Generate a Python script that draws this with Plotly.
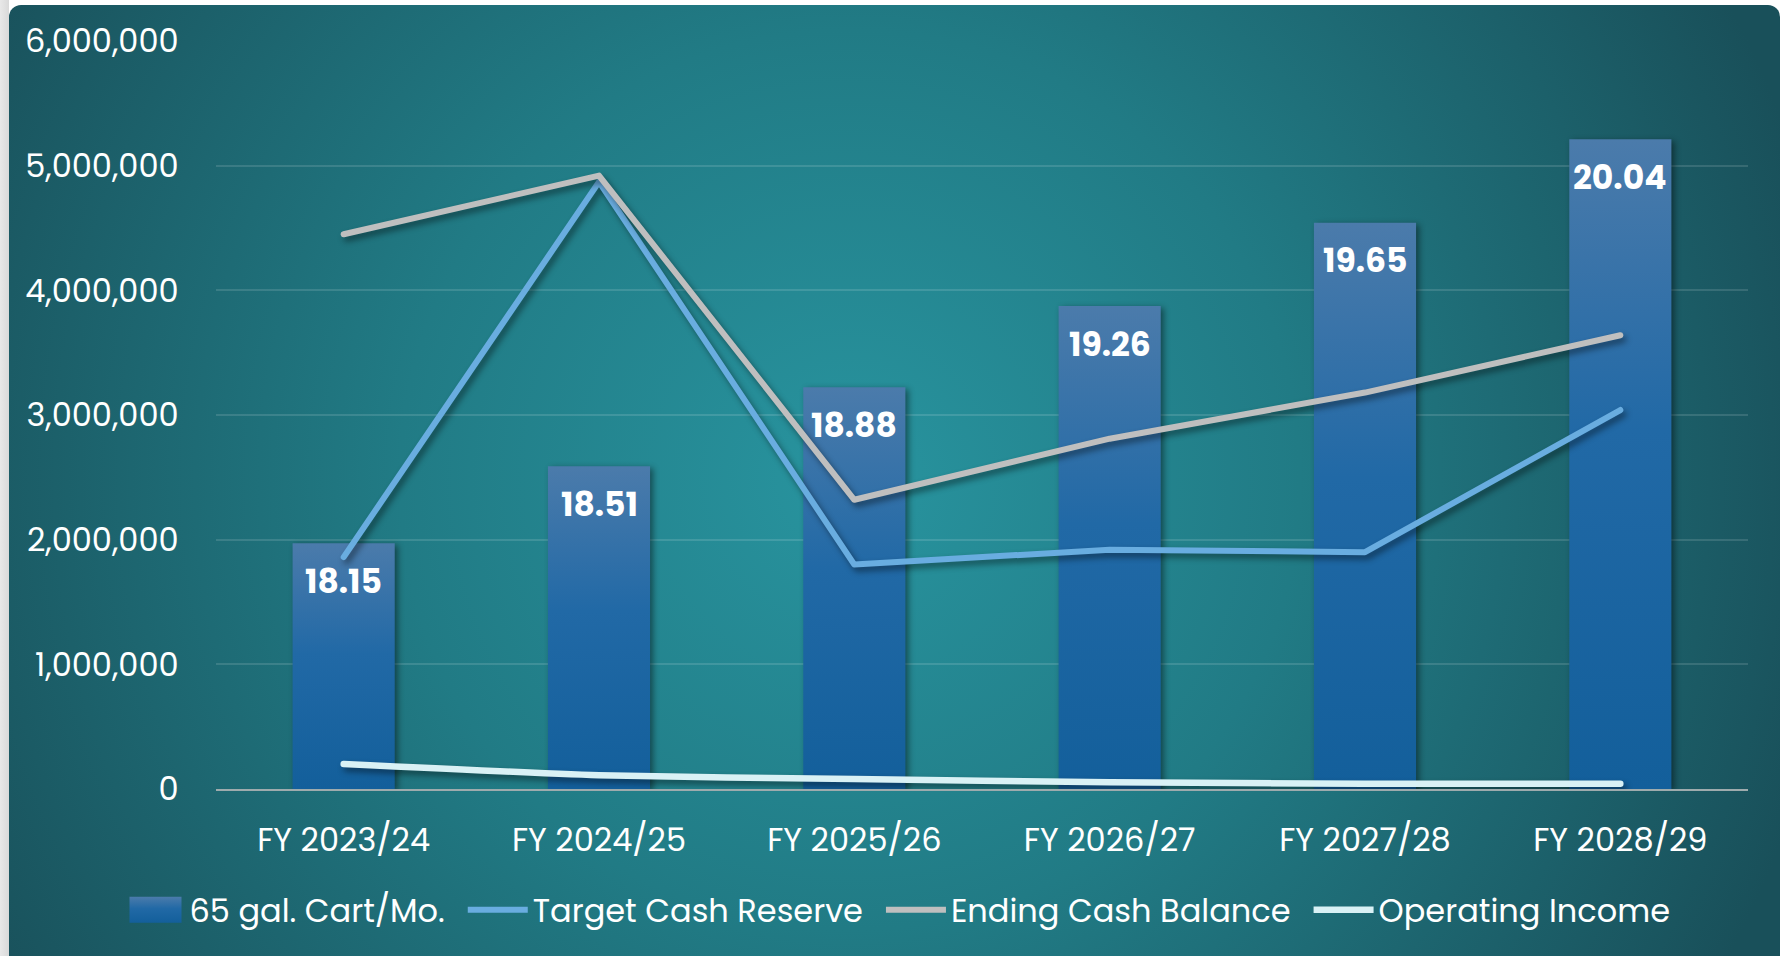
import base64
import plotly.graph_objects as go

# ---------------- data ----------------
categories = ["FY 2023/24", "FY 2024/25", "FY 2025/26", "FY 2026/27", "FY 2027/28", "FY 2028/29"]
cart_rate = [18.15, 18.51, 18.88, 19.26, 19.65, 20.04]            # 65 gal. Cart/Mo. (hidden secondary scale)
target_cash_reserve = [1860000, 4870000, 1800000, 1920000, 1900000, 3040000]
ending_cash_balance = [4450000, 4920000, 2320000, 2810000, 3180000, 3640000]
operating_income = [200000, 110000, 80000, 55000, 42000, 42000]
y_ticks = [0, 1000000, 2000000, 3000000, 4000000, 5000000, 6000000]
y_tick_labels = ["0", "1,000,000", "2,000,000", "3,000,000", "4,000,000", "5,000,000", "6,000,000"]

MONEY_RANGE = [0, 6000000]
RATE_RANGE = [17, 20.5]

# ---------------- layout geometry ----------------
W, H = 1783, 956
ML, MR, MT, MB = 216, 35, 41, 167
PW, PH = W - ML - MR, H - MT - MB

FONT = "Poppins, 'Open Sans', sans-serif"
BAR_COLOR = "#2467a3"
BLUE = "#69ade0"
GREY = "#bfbfbf"
LIGHT = "#d9f1f5"

# background card (radial teal gradient) as svg image
card_x0, card_y0, card_x1, card_y1 = 9, 5, 1780, 990
cw, ch = card_x1 - card_x0, card_y1 - card_y0
svg = f'''<svg xmlns="http://www.w3.org/2000/svg" width="{cw}" height="{ch}" viewBox="0 0 {cw} {ch}">
<defs><radialGradient id="g" gradientUnits="userSpaceOnUse" cx="{850-card_x0}" cy="{480-card_y0}" r="1000">
<stop offset="0" stop-color="#28949f"/><stop offset="0.45" stop-color="#217b85"/><stop offset="1" stop-color="#19505a"/>
</radialGradient></defs>
<rect x="0" y="0" width="{cw}" height="{ch}" rx="12" ry="12" fill="url(#g)"/></svg>'''
svg_uri = "data:image/svg+xml;base64," + base64.b64encode(svg.encode()).decode()

edge = '''<svg xmlns="http://www.w3.org/2000/svg" width="20" height="10" viewBox="0 0 20 10" preserveAspectRatio="none">
<defs><linearGradient id="e" x1="0" y1="0" x2="1" y2="0"><stop offset="0" stop-color="#e8e8e8"/><stop offset="1" stop-color="#d9d9d9"/></linearGradient></defs>
<rect width="20" height="10" fill="url(#e)"/></svg>'''
edge_uri = "data:image/svg+xml;base64," + base64.b64encode(edge.encode()).decode()


def px_to_paper_x(px):
    return (px - ML) / PW


def px_to_paper_y(py):
    return 1 - (py - MT) / PH


# gridlines live on the bar axis (below the bars); place them where the money ticks fall
def money_to_rate(v):
    return RATE_RANGE[0] + (v - MONEY_RANGE[0]) / (MONEY_RANGE[1] - MONEY_RANGE[0]) * (RATE_RANGE[1] - RATE_RANGE[0])


grid_vals = [money_to_rate(t) for t in y_ticks]

fig = go.Figure()

fig.add_trace(go.Bar(
    x=categories, y=[v - RATE_RANGE[0] for v in cart_rate], base=RATE_RANGE[0],
    customdata=cart_rate, hovertemplate="%{x}: %{customdata:.2f}<extra></extra>",
    name="65 gal. Cart/Mo.", yaxis="y",
    marker=dict(color=BAR_COLOR, line=dict(width=0)), width=0.4,
))
fig.add_trace(go.Scatter(
    x=categories, y=target_cash_reserve, name="Target Cash Reserve", mode="lines", yaxis="y2",
    line=dict(color=BLUE, width=6),
))
fig.add_trace(go.Scatter(
    x=categories, y=ending_cash_balance, name="Ending Cash Balance", mode="lines", yaxis="y2",
    line=dict(color=GREY, width=6),
))
fig.add_trace(go.Scatter(
    x=categories, y=operating_income, name="Operating Income", mode="lines", yaxis="y2",
    line=dict(color=LIGHT, width=6.5, shape="spline", smoothing=0.6),
))

annotations = []
for c, v in zip(categories, cart_rate):
    annotations.append(dict(
        x=c, y=v, xref="x", yref="y", text=f"{v:.2f}", showarrow=False,
        yanchor="middle", yshift=-38,
        font=dict(family=FONT, size=33, color="white", weight="bold"),
    ))

fig.update_layout(
    width=W, height=H,
    margin=dict(l=ML, r=MR, t=MT, b=MB),
    paper_bgcolor="#ffffff", plot_bgcolor="rgba(0,0,0,0)",
    font=dict(family=FONT, color="white", size=32),
    bargap=0.6,
    showlegend=True,
    legend=dict(
        orientation="h", xref="container", yref="container",
        x=0.5, xanchor="center", y=1 - 910 / H, yanchor="middle",
        font=dict(family=FONT, size=32, color="white"),
        bgcolor="rgba(0,0,0,0)", itemwidth=60,
    ),
    xaxis=dict(
        showgrid=False, showline=True, linecolor="#9eabad", linewidth=2,
        ticks="outside", ticklen=22, tickcolor="rgba(0,0,0,0)",
        tickfont=dict(family=FONT, size=32, color="white"), zeroline=False,
    ),
    yaxis=dict(
        range=RATE_RANGE, tickvals=grid_vals, showticklabels=False,
        showgrid=True, gridcolor="rgba(255,255,255,0.13)", gridwidth=1.5,
        zeroline=False, showline=False, ticks="",
    ),
    yaxis2=dict(
        range=MONEY_RANGE, tickvals=y_ticks, ticktext=y_tick_labels,
        overlaying="y", side="left", showgrid=False, zeroline=False, showline=False,
        ticks="outside", ticklen=30, tickcolor="rgba(0,0,0,0)",
        tickfont=dict(family=FONT, size=32, color="white"),
    ),
    annotations=annotations,
    images=[
        dict(source=edge_uri, xref="paper", yref="paper",
             x=px_to_paper_x(0), y=px_to_paper_y(0), sizex=card_x0 / PW, sizey=H / PH,
             xanchor="left", yanchor="top", sizing="stretch", layer="below"),
        dict(source=svg_uri, xref="paper", yref="paper",
             x=px_to_paper_x(card_x0), y=px_to_paper_y(card_y0),
             sizex=cw / PW, sizey=ch / PH,
             xanchor="left", yanchor="top", sizing="stretch", layer="below"),
    ],
)

post = """
document.body.style.margin='0';
var gd=document.getElementById('{plot_id}');
var ns='http://www.w3.org/2000/svg';
function style(){
  var svg=gd.querySelector('svg.main-svg');
  var defs=svg.querySelector('defs');
  if(!document.getElementById('bargrad')){
    var lg=document.createElementNS(ns,'linearGradient');
    lg.setAttribute('id','bargrad');lg.setAttribute('x1','0');lg.setAttribute('y1','0');lg.setAttribute('x2','0');lg.setAttribute('y2','1');
    [['0','#4b7bab'],['0.45','#2169a6'],['1','#135f9b']].forEach(function(s){
      var st=document.createElementNS(ns,'stop');st.setAttribute('offset',s[0]);st.setAttribute('stop-color',s[1]);lg.appendChild(st);});
    defs.appendChild(lg);
  }
  gd.querySelectorAll('.barlayer .point path').forEach(function(p){
    p.style.fill='url(#bargrad)';
    p.style.filter='drop-shadow(3px 2px 3px rgba(0,0,0,0.45))';
  });
  gd.querySelectorAll('.scatterlayer path.js-line').forEach(function(p){
    p.style.filter='drop-shadow(3px 4px 3px rgba(0,0,0,0.45))';
    p.style.strokeLinecap='round';p.style.strokeLinejoin='round';
  });
  gd.querySelectorAll('.legend .scrollbox').forEach(function(s){s.removeAttribute('clip-path');});
  gd.querySelectorAll('.legend').forEach(function(s){s.style.overflow='visible';});
  var items=gd.querySelectorAll('.legend .traces');
  items.forEach(function(it,i){
    if(!it.dataset.base){it.dataset.base=it.getAttribute('transform');}
    var m=/translate\\(([-\\d.]+),\\s*([-\\d.]+)\\)/.exec(it.dataset.base);
    if(m){
      var gap=13;
      var x=parseFloat(m[1])+(i-(items.length-1)/2)*gap+6;
      it.setAttribute('transform','translate('+x+','+m[2]+')');
    }
    if(i===0){
      var p=it.querySelector('.legendpoints path');
      var t=it.querySelector('.legendtext');
      if(p&&t){
        var ptsX=p.getScreenCTM().e;
        var tl=t.getBoundingClientRect().left;
        var x1=tl-8-ptsX, x0=x1-52;
        p.setAttribute('d','M'+x0+',-13H'+x1+'V13H'+x0+'Z');
        p.style.fill='url(#bargrad)';p.style.stroke='none';
      }
    }
  });
}
style();
gd.on('plotly_afterplot', style);
"""

fig.write_html("out.html", include_plotlyjs=True, post_script=post,
               config={"displayModeBar": False})
